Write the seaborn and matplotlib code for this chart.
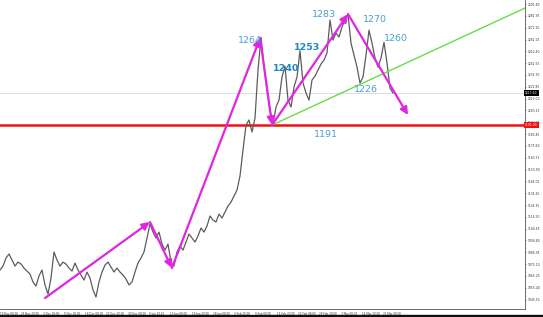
import matplotlib
matplotlib.use("Agg")
import matplotlib.pyplot as plt
import matplotlib.transforms as mtransforms
import numpy as np
import pandas as pd
import seaborn as sns

# ---------------- data ----------------
closes = [1070.2, 1073.5, 1080.2, 1083.5, 1078.5, 1073.5, 1076.8, 1075.2, 1071.8, 1069.3,
          1066.8, 1060.2, 1056.8, 1065.2, 1070.2, 1057.7, 1050.2, 1063.5, 1085.2, 1078.5,
          1073.5, 1076.8, 1075.2, 1071.8, 1069.3, 1076.0, 1070.2, 1066.0, 1061.8, 1068.5,
          1063.5, 1053.5, 1047.7, 1060.2, 1068.5, 1074.3, 1076.8, 1072.7, 1068.5, 1071.8,
          1068.5, 1066.0, 1062.7, 1057.7, 1060.2, 1068.5, 1076.0, 1080.2, 1085.2, 1096.8,
          1108.5, 1101.8, 1096.8, 1101.8, 1091.8, 1086.8, 1091.8, 1076.8, 1073.5, 1085.2,
          1090.2, 1086.8, 1093.5, 1100.2, 1096.8, 1093.5, 1098.5, 1105.2, 1101.8, 1106.8,
          1115.2, 1111.8, 1110.2, 1116.8, 1113.5, 1118.5, 1123.5, 1126.8, 1131.8, 1136.8,
          1148.5, 1170.2, 1191.0, 1195.2, 1185.2, 1196.8, 1236.8, 1264.0, 1240.2, 1220.2,
          1203.5, 1191.0, 1206.0, 1211.8, 1231.0, 1240.0, 1211.8, 1206.0, 1222.7, 1231.0,
          1253.0, 1226.0, 1217.7, 1211.8, 1228.5, 1231.8, 1236.8, 1241.8, 1245.2, 1251.0,
          1278.5, 1261.8, 1267.7, 1264.3, 1272.7, 1278.5, 1283.5, 1259.3, 1249.3, 1239.3,
          1226.0, 1231.0, 1249.3, 1270.0, 1259.3, 1246.8, 1239.3, 1246.8, 1260.0, 1242.7,
          1221.8, 1217.6]

# zigzag wave (bar index, price)
wave_x = [15.0, 50.0, 57.3, 86.7, 90.7, 116.0, 136.0]
wave_y = [1046.8, 1110.2, 1071.8, 1263.5, 1191.0, 1283.5, 1199.3]

# green trend line
trend_x = [90.7, 175.0]
trend_y = [1191.0, 1288.5]

support_level = 1191.0
current_price = 1217.6

level_texts = ["1264", "1240", "1253", "1283", "1270", "1260", "1226", "1191"]
level_x = [83.3, 95.3, 102.3, 108.0, 125.0, 132.0, 122.0, 108.7]
level_y = [1261.8, 1238.5, 1255.2, 1283.5, 1279.3, 1263.5, 1221.0, 1183.5]
level_bold = [False, True, True, False, False, False, False, False]

price_ticks = [1291.80, 1281.95, 1272.10, 1262.25, 1252.40, 1242.55, 1232.70, 1222.85,
               1213.00, 1203.15, 1193.30, 1183.45, 1173.60, 1163.75, 1153.90, 1144.05,
               1134.20, 1124.35, 1114.50, 1104.65, 1094.80, 1084.95, 1075.10, 1065.25,
               1055.40, 1045.55]

date_labels = ["19 Nov 08:00", "25 Nov 20:00", "3 Dec 08:00", "9 Dec 20:00", "16 Dec 08:00",
               "22 Dec 20:00", "30 Dec 08:00", "6 Jan 20:00", "13 Jan 08:00", "19 Jan 20:00",
               "26 Jan 08:00", "2 Feb 20:00", "9 Feb 08:00", "15 Feb 20:00", "22 Feb 08:00",
               "29 Feb 20:00", "7 Mar 08:00", "14 Mar 20:00", "21 Mar 08:00"]

# ---------------- plot ----------------
sns.set_style("white")
plt.rcParams["font.family"] = ["DejaVu Sans"]

fig = plt.figure(figsize=(5.43, 3.17), dpi=100)
ax = fig.add_axes([0.0, 8 / 317, 525 / 543, 309 / 317])

df = pd.DataFrame({"bar": np.arange(len(closes)), "close": closes})

# support line & current price line
ax.axhline(current_price, color="#d8d8d8", lw=0.6, zorder=1)
ax.axhline(support_level, color="#ee1111", lw=1.8, zorder=2)

sns.lineplot(data=df, x="bar", y="close", ax=ax, color="#5c5c5c", lw=0.9, zorder=3)

sns.lineplot(x=trend_x, y=trend_y, ax=ax, color="#66dd44", lw=1.0, zorder=4)

MAG = "#e026e0"
for i in range(len(wave_x) - 1):
    ax.annotate("", xy=(wave_x[i + 1], wave_y[i + 1]), xytext=(wave_x[i], wave_y[i]),
                arrowprops=dict(arrowstyle="-|>,head_length=0.45,head_width=0.22",
                                color=MAG, lw=1.6, shrinkA=0, shrinkB=0),
                zorder=5)

for t, x, y, b in zip(level_texts, level_x, level_y, level_bold):
    ax.text(x, y, t, ha="center", va="center", fontsize=6.8,
            color="#1d86c6" if b else "#4a9fd2",
            fontweight="bold" if b else "normal", zorder=6)

ax.set_xlim(0, 175)
ax.set_ylim(1037.7, 1295.2)

ax.yaxis.tick_right()
ax.set_yticks(price_ticks)
ax.set_yticklabels([f"{v:.2f}" for v in price_ticks], fontsize=2.2, color="#333333")
ax.tick_params(axis="y", length=1.0, width=0.4, pad=0.8, colors="#333333")

ax.set_xticks(np.linspace(0, 127.7, len(date_labels)))
ax.set_xticklabels(date_labels, fontsize=2.0, color="#333333")
for lab in ax.get_xticklabels():
    lab.set_ha("left")
ax.tick_params(axis="x", length=1.2, width=0.4, pad=0.8)

ax.set_xlabel("")
ax.set_ylabel("")
for s in ["top", "left"]:
    ax.spines[s].set_visible(False)
ax.spines["right"].set_color("#555555")
ax.spines["right"].set_linewidth(0.6)
ax.spines["bottom"].set_color("#555555")
ax.spines["bottom"].set_linewidth(0.6)

trans = mtransforms.blended_transform_factory(ax.transAxes, ax.transData)
ax.text(1.0, support_level, "1191.00", transform=trans, ha="left", va="center",
        fontsize=2.2, color="white", clip_on=False, zorder=20,
        bbox=dict(boxstyle="square,pad=0.35", fc="#ee1111", ec="none"))
ax.text(1.0, current_price, "1217.60", transform=trans, ha="left", va="center",
        fontsize=2.2, color="white", clip_on=False, zorder=20,
        bbox=dict(boxstyle="square,pad=0.35", fc="black", ec="none"))

fig.add_artist(plt.Rectangle((0, 0), 1, 2 / 317, transform=fig.transFigure,
                             color="#111111", zorder=10))

fig.savefig("out.png", dpi=100)
